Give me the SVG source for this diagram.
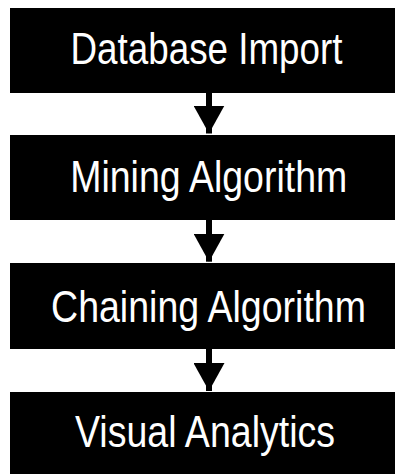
<svg xmlns="http://www.w3.org/2000/svg" width="395" height="474" viewBox="0 0 395 474">
  <style>
    .box { fill: #000; }
    .lbl { fill: #fff; font-family: "Liberation Sans", Arial, sans-serif; font-size: 45px; text-anchor: middle; }
    .conn { stroke: #000; stroke-width: 6; fill: none; }
  </style>
  <defs>
    <marker id="ah" markerUnits="userSpaceOnUse" markerWidth="28" markerHeight="31" refX="28" refY="15.5" orient="auto">
      <path d="M0,0 L28,15.5 L0,31 z" fill="#000"/>
    </marker>
  </defs>
  <rect width="395" height="474" fill="#fff"/>
  <g id="node-database-import">
    <rect class="box" x="10" y="8" width="385" height="85"/>
    <text class="lbl" transform="translate(206.5,63.5) scale(0.82,1)" x="0" y="0" textLength="331.7" lengthAdjust="spacingAndGlyphs">Database Import</text>
  </g>
  <g id="node-mining-algorithm">
    <rect class="box" x="10" y="135" width="385" height="85"/>
    <text class="lbl" transform="translate(208.7,192.3) scale(0.82,1)" x="0" y="0" textLength="337.8" lengthAdjust="spacingAndGlyphs">Mining Algorithm</text>
  </g>
  <g id="node-chaining-algorithm">
    <rect class="box" x="10" y="263" width="385" height="86"/>
    <text class="lbl" transform="translate(208.5,321.7) scale(0.82,1)" x="0" y="0" textLength="384.1" lengthAdjust="spacingAndGlyphs">Chaining Algorithm</text>
  </g>
  <g id="node-visual-analytics">
    <rect class="box" x="10" y="392" width="385" height="82"/>
    <text class="lbl" transform="translate(205,447) scale(0.82,1)" x="0" y="0" textLength="317.1" lengthAdjust="spacingAndGlyphs">Visual Analytics</text>
  </g>
  <g id="connectors">
    <line class="conn" x1="209" y1="92" x2="209" y2="133.5" marker-end="url(#ah)"/>
    <line class="conn" x1="209" y1="219" x2="209" y2="261.7" marker-end="url(#ah)"/>
    <line class="conn" x1="209" y1="348" x2="209" y2="391" marker-end="url(#ah)"/>
  </g>
</svg>
